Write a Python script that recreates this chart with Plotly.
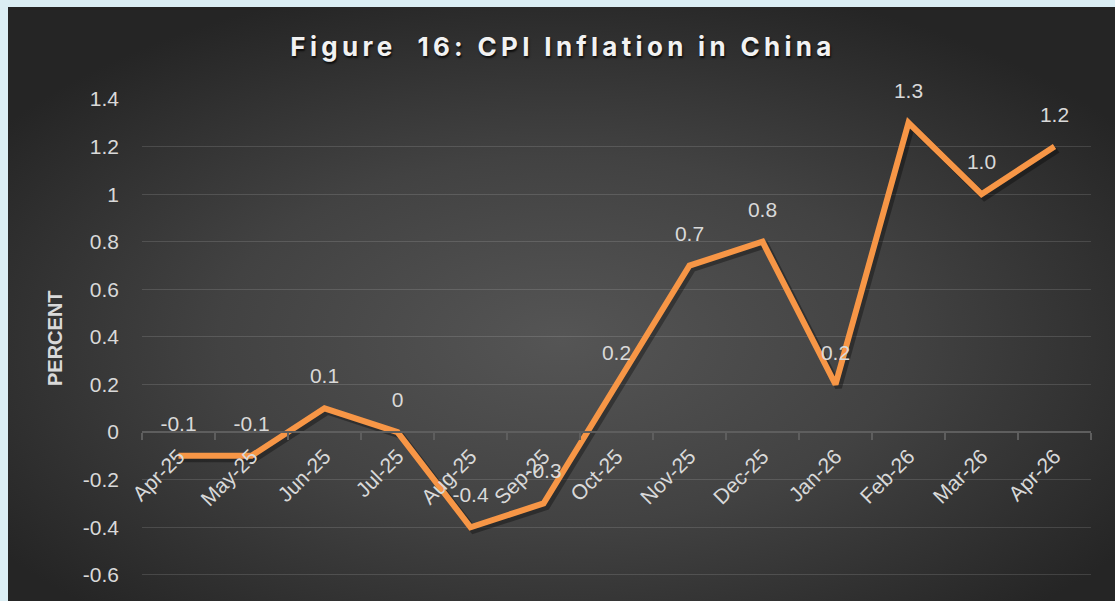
import base64
import plotly.graph_objects as go

months = ["Apr-25", "May-25", "Jun-25", "Jul-25", "Aug-25", "Sep-25", "Oct-25",
          "Nov-25", "Dec-25", "Jan-26", "Feb-26", "Mar-26", "Apr-26"]
cpi = [-0.1, -0.1, 0.1, 0.0, -0.4, -0.3, 0.2, 0.7, 0.8, 0.2, 1.3, 1.0, 1.2]
cpi_labels = ["-0.1", "-0.1", "0.1", "0", "-0.4", "-0.3", "0.2", "0.7", "0.8", "0.2", "1.3", "1.0", "1.2"]
y_ticks = [-0.6, -0.4, -0.2, 0, 0.2, 0.4, 0.6, 0.8, 1, 1.2, 1.4]
y_tick_text = ["-0.6", "-0.4", "-0.2", "0", "0.2", "0.4", "0.6", "0.8", "1", "1.2", "1.4"]

# figure sits in the page at offset (8, 7); page is 1115 x 601
W, H = 1107, 594
ML, MR, MT, MB = 134, 24, 92, 0
YMIN, YMAX = -0.71, 1.4
plot_w = W - ML - MR
plot_h = H - MT - MB

def px_x(px):
    return (px - ML) / plot_w

def px_y(py):
    return (H - MB - py) / plot_h

svg = ("<svg xmlns='http://www.w3.org/2000/svg' width='1107' height='594' preserveAspectRatio='none'>"
       "<defs><radialGradient id='g' cx='0.5' cy='0.56' r='0.62'>"
       "<stop offset='0' stop-color='#555555'/>"
       "<stop offset='0.5' stop-color='#424242'/>"
       "<stop offset='1' stop-color='#252525'/>"
       "</radialGradient></defs>"
       "<rect width='1107' height='594' fill='url(#g)'/></svg>")
bg_src = "data:image/svg+xml;base64," + base64.b64encode(svg.encode()).decode()

SH_DX = 3.0 / (plot_w / 13.0)      # shadow offset in category units
SH_DY = 3.0 / (plot_h / (YMAX - YMIN))  # shadow offset in value units

fig = go.Figure()
# invisible carrier trace so the visible main axes get drawn
fig.add_trace(go.Scatter(
    x=months, y=cpi, mode="lines", line=dict(width=0, color="rgba(0,0,0,0)"),
    hoverinfo="skip", showlegend=False,
))
# soft drop shadow of the line (same data, drawn on slightly shifted hidden axes)
fig.add_trace(go.Scatter(
    x=months, y=cpi, mode="lines", xaxis="x2", yaxis="y2",
    line=dict(color="rgba(0,0,0,0.33)", width=7),
    hoverinfo="skip", showlegend=False,
))
# main line on an unshifted overlay so it sits above the shadow
fig.add_trace(go.Scatter(
    x=months, y=cpi, mode="lines+markers+text", xaxis="x3", yaxis="y3",
    line=dict(color="#F79646", width=6),
    marker=dict(size=30, opacity=0, color="#F79646"),
    text=cpi_labels, textposition="top center",
    textfont=dict(family="Liberation Sans, Arial, sans-serif", size=21, color="#D9D9D9"),
    cliponaxis=False, hoverinfo="skip", showlegend=False,
))

zero_pos = (0 - YMIN) / (YMAX - YMIN)

fig.update_layout(
    width=W, height=H,
    margin=dict(l=ML, r=MR, t=MT, b=MB),
    paper_bgcolor="#333333",
    plot_bgcolor="rgba(0,0,0,0)",
    title=dict(
        text="Figure\u00a0 16: CPI Inflation in China",
        x=555 / W, xref="container", xanchor="center",
        y=1 - 40 / H, yref="container", yanchor="middle",
        font=dict(family="Inter, Roboto, sans-serif", size=26, color="#F2F2F2", weight="bold",
                  shadow="1px 2px 2px rgba(0,0,0,0.75)"),
    ),
    images=[dict(
        source=bg_src, xref="paper", yref="paper",
        x=px_x(0), y=px_y(0), sizex=px_x(W) - px_x(0), sizey=px_y(0) - px_y(H),
        xanchor="left", yanchor="top", sizing="stretch", layer="below",
    )],
    xaxis=dict(
        type="category", range=[-0.5, 12.5], categoryarray=months,
        anchor="free", position=zero_pos,
        showgrid=False, showline=True, linecolor="#5E5E5E", linewidth=1.5,
        ticks="outside", ticklen=7, tickcolor="#5E5E5E", tickwidth=1.5,
        tickson="boundaries", tickangle=-45, ticklabelstandoff=3,
        tickfont=dict(family="Liberation Sans, Arial, sans-serif", size=21, color="#D9D9D9"),
    ),
    yaxis=dict(
        range=[YMIN, YMAX], tickvals=y_ticks, ticktext=y_tick_text,
        showgrid=True, gridcolor="rgba(255,255,255,0.13)", gridwidth=1.2,
        zeroline=False, showline=False, ticks="", ticklabelstandoff=22,
        tickfont=dict(family="Liberation Sans, Arial, sans-serif", size=21, color="#D9D9D9"),
    ),
    xaxis2=dict(type="category", overlaying="x", visible=False,
                range=[-0.5 - SH_DX, 12.5 - SH_DX], categoryarray=months),
    yaxis2=dict(overlaying="y", visible=False,
                range=[YMIN + SH_DY, YMAX + SH_DY]),
    xaxis3=dict(type="category", overlaying="x", visible=False,
                range=[-0.5, 12.5], categoryarray=months),
    yaxis3=dict(overlaying="y", visible=False, range=[YMIN, YMAX]),
    annotations=[dict(
        text="<b>PERCENT</b>", textangle=-90, showarrow=False,
        xref="paper", yref="paper", x=px_x(47), y=px_y(331),
        xanchor="center", yanchor="middle",
        font=dict(family="Liberation Sans, Arial, sans-serif", size=20, color="#D9D9D9"),
    )],
)

post = ("document.body.style.margin='7px 0 0 8px';"
        "document.body.style.background='#DBEEF4';"
        "document.body.style.overflow='hidden';"
        "document.querySelectorAll('.gtitle').forEach(function(e){e.style.letterSpacing='4.3px';});")
fig.write_html("out.html", post_script=post)
